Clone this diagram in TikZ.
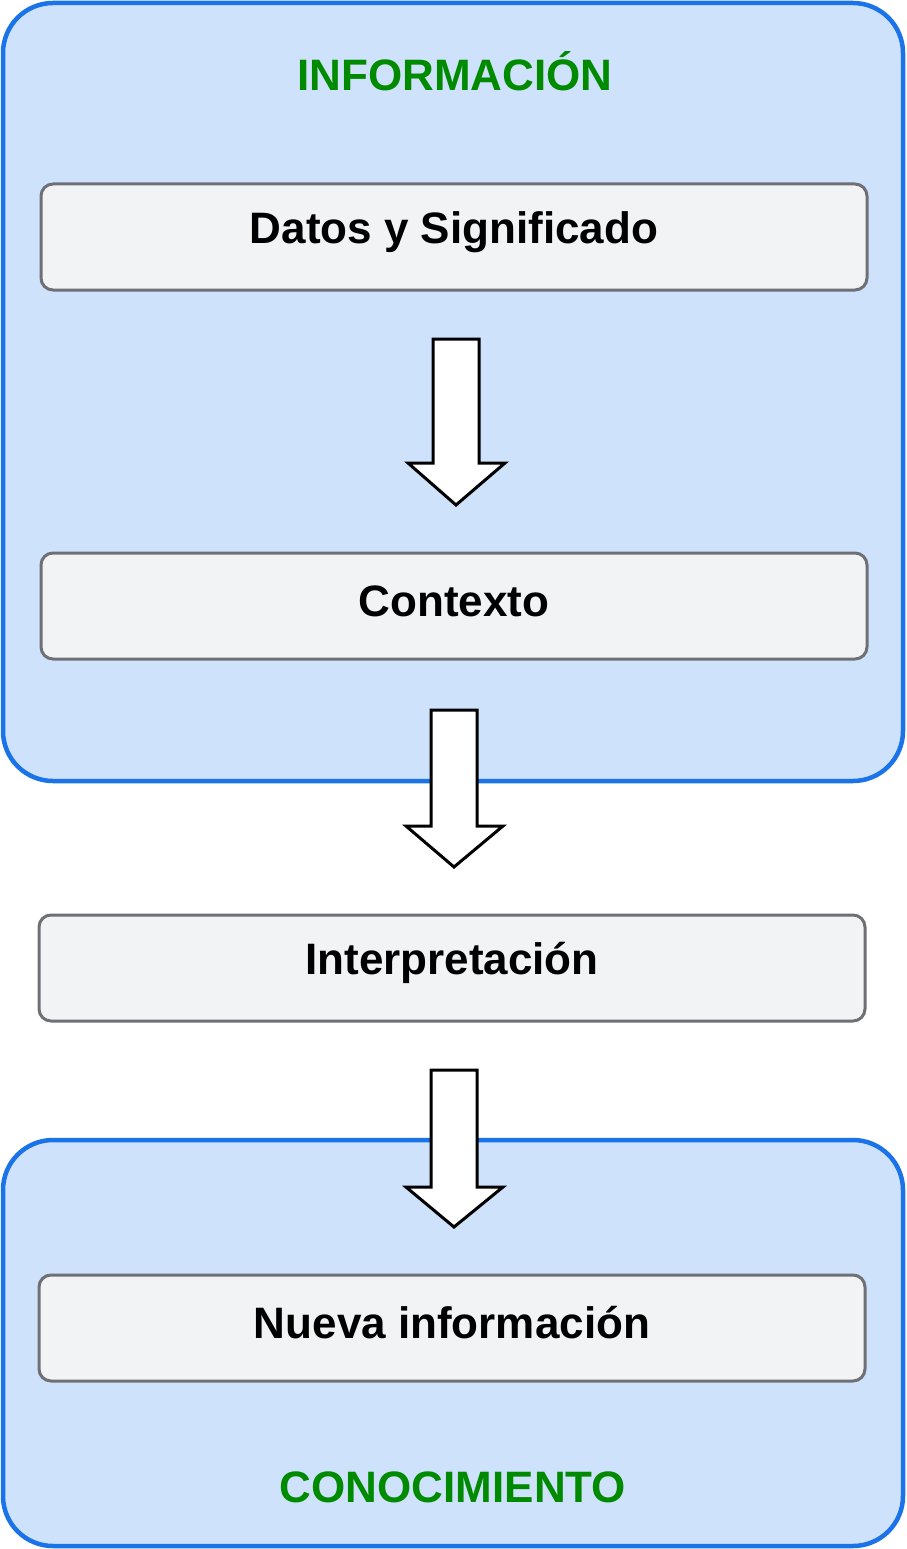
\documentclass[tikz,border=0pt]{standalone}
\usepackage{fontspec}
\setmainfont{Liberation Sans}
\definecolor{outerfill}{HTML}{CFE2FC}
\definecolor{outerline}{HTML}{1A73E8}
\definecolor{boxfill}{HTML}{F1F3F5}
\definecolor{boxline}{HTML}{6E7076}
\definecolor{titlegreen}{HTML}{008A00}
\begin{document}
\begin{tikzpicture}[x=1pt,y=-1pt,
  outer/.style={draw=outerline,fill=outerfill,line width=4.5pt,rounded corners=50pt},
  stepbox/.style={draw=boxline,fill=boxfill,line width=3pt,rounded corners=12pt,minimum width=826pt,minimum height=106pt},
  steptext/.style={font=\fontsize{44}{48}\selectfont\bfseries},
  title/.style={text=titlegreen,font=\fontsize{44}{48}\selectfont\bfseries},
  bigarrow/.style={draw=black,fill=white,line width=3pt,line join=miter}]
\useasboundingbox (0,0) rectangle (906,1549);
\draw[outer] (3,3) rectangle (903,781);
\draw[outer] (3,1140) rectangle (903,1546);
\node[title] (t1) at (455,71) {INFORMACIÓN};
\node[title] (t2) at (453,1487) {CONOCIMIENTO};
\node[stepbox] (a) at (454,237) {};
\node[steptext] at (454,232) {Datos y Significado};
\node[stepbox] (b) at (454,606) {};
\node[steptext] at (454,601) {Contexto};
\node[stepbox] (c) at (452,968) {};
\node[steptext] at (452,963) {Interpretación};
\node[stepbox] (d) at (452,1328) {};
\node[steptext] at (452,1323) {Nueva información};
\draw[bigarrow] (433,339) -- (479,339) -- (479,463) -- (505,463) -- (456,505) -- (408,463) -- (433,463) -- cycle;
\draw[bigarrow] (431,710) -- (477,710) -- (477,826) -- (503,826) -- (454,867) -- (406,826) -- (431,826) -- cycle;
\draw[bigarrow] (431,1070) -- (477,1070) -- (477,1187) -- (503,1187) -- (454,1227) -- (406,1187) -- (431,1187) -- cycle;
\end{tikzpicture}
\end{document}
